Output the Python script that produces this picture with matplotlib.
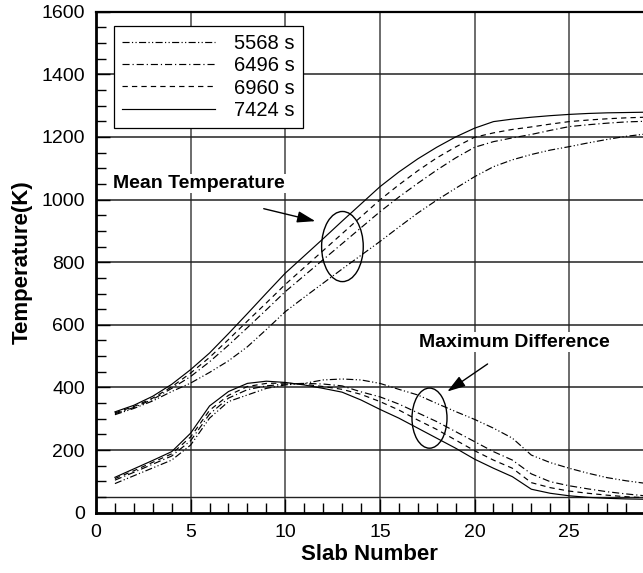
import matplotlib
matplotlib.use("Agg")
import matplotlib.pyplot as plt
from matplotlib.patches import Ellipse
from matplotlib.ticker import MultipleLocator

plt.rcParams['font.family'] = ['Liberation Sans', 'DejaVu Sans']

slab = list(range(1, 30))
labels = ['5568 s', '6496 s', '6960 s', '7424 s']

mean_5568 = [313, 333, 357, 387, 414, 448, 485, 530, 585, 642, 688, 733, 778, 822, 866,
             912, 957, 998, 1036, 1073, 1105, 1127, 1144, 1158, 1169, 1181, 1192, 1202, 1209]
mean_6496 = [316, 336, 362, 397, 435, 482, 535, 591, 648, 706, 757, 808, 859, 910, 961,
             1008, 1052, 1094, 1133, 1167, 1185, 1197, 1208, 1221, 1233, 1239, 1244, 1248, 1250]
mean_6960 = [319, 339, 366, 402, 446, 496, 553, 612, 670, 729, 783, 837, 891, 945, 999,
             1047, 1092, 1133, 1168, 1199, 1213, 1224, 1232, 1241, 1249, 1254, 1258, 1261, 1263]
mean_7424 = [322, 343, 372, 410, 457, 510, 572, 636, 701, 765, 820, 875, 931, 986, 1041,
             1088, 1130, 1167, 1200, 1228, 1249, 1257, 1263, 1268, 1272, 1275, 1277, 1278, 1279]

diff_5568 = [93, 118, 143, 168, 216, 302, 355, 376, 397, 408, 413, 424, 427, 424, 413,
             394, 376, 349, 323, 298, 270, 238, 184, 160, 142, 126, 112, 102, 94]
diff_6496 = [104, 129, 155, 181, 230, 315, 366, 393, 405, 411, 413, 411, 405, 386, 370,
             347, 319, 291, 259, 227, 195, 168, 124, 99, 86, 76, 67, 60, 54]
diff_6960 = [109, 134, 161, 188, 242, 327, 375, 403, 413, 414, 410, 403, 394, 378, 355,
             328, 296, 266, 232, 198, 168, 142, 96, 80, 69, 62, 56, 51, 48]
diff_7424 = [113, 140, 167, 195, 254, 341, 387, 413, 420, 416, 408, 397, 385, 360, 330,
             302, 270, 238, 206, 171, 142, 115, 75, 62, 54, 49, 46, 44, 43]

means = [mean_5568, mean_6496, mean_6960, mean_7424]
diffs = [diff_5568, diff_6496, diff_6960, diff_7424]
styles = [(0, (6, 2, 1, 2, 1, 2)), (0, (6, 2.5, 1, 2.5)), (0, (4.5, 3.5)), '-']

fig = plt.figure(figsize=(6.43, 5.73), dpi=100)
ax = fig.add_axes([96/643, (573-512.7)/573, (643-96)/643, 501/573])

ax.set_xlim(0, 28.9)
ax.set_ylim(0, 1600)

# grid
for gx in [5, 10, 15, 20, 25]:
    ax.axvline(gx, color='#444444', lw=1.1, zorder=1)
for gy in [200, 400, 600, 800, 1000, 1200, 1400]:
    ax.axhline(gy, color='#222222', lw=1.1, zorder=1)
ax.axhline(50, color='#222222', lw=1.0, zorder=1)

for m, d, ls, lab in zip(means, diffs, styles, labels):
    ax.plot(slab, m, color='black', lw=0.85, linestyle=ls, label=lab, zorder=3)
    ax.plot(slab, d, color='black', lw=0.85, linestyle=ls, zorder=3)

ax.xaxis.set_major_locator(MultipleLocator(5))
ax.xaxis.set_minor_locator(MultipleLocator(1))
ax.yaxis.set_major_locator(MultipleLocator(200))
ax.yaxis.set_minor_locator(MultipleLocator(50))
ax.tick_params(which='both', direction='in', top=False, right=False, labelsize=14, pad=8)
ax.tick_params(which='major', length=10, width=1)
ax.tick_params(which='minor', length=7, width=1)

for s in ['left', 'bottom']:
    ax.spines[s].set_linewidth(2.0)
ax.spines['top'].set_linewidth(1.6)
ax.spines['right'].set_visible(False)

ax.set_xlabel('Slab Number', fontsize=16, fontweight='bold', labelpad=2)
ax.set_ylabel('Temperature(K)', fontsize=16, fontweight='bold', labelpad=6)

leg = ax.legend(loc='upper left', bbox_to_anchor=(0.0329, 0.9714), borderaxespad=0,
                fontsize=14.5, handlelength=4.6, handletextpad=0.95, labelspacing=0.16,
                borderpad=0.4, fancybox=False, framealpha=1, edgecolor='black')
leg.get_frame().set_linewidth(0.9)
leg.set_zorder(5)

# annotations
ax.text(0.88, 1051, 'Mean Temperature', fontsize=14, fontweight='bold', ha='left', va='center',
        bbox=dict(facecolor='white', edgecolor='none', pad=1), zorder=4)
ax.annotate('', xy=(11.73, 929), xytext=(8.72, 973),
            arrowprops=dict(arrowstyle='-|>,head_length=1.1,head_width=0.35', lw=1, color='black'),
            zorder=4)
ax.add_patch(Ellipse((13.02, 850), 2.2, 224, fill=False, edgecolor='black', lw=1, zorder=4))

ax.text(22.13, 545, 'Maximum Difference', fontsize=14, fontweight='bold', ha='center', va='center',
        bbox=dict(facecolor='white', edgecolor='none', pad=1), zorder=4)
ax.annotate('', xy=(18.44, 382), xytext=(20.81, 480),
            arrowprops=dict(arrowstyle='-|>,head_length=1.1,head_width=0.35', lw=1, color='black'),
            zorder=4)
ax.add_patch(Ellipse((17.62, 302), 1.85, 192, fill=False, edgecolor='black', lw=1, zorder=4))

fig.savefig('out.png', dpi=100)
